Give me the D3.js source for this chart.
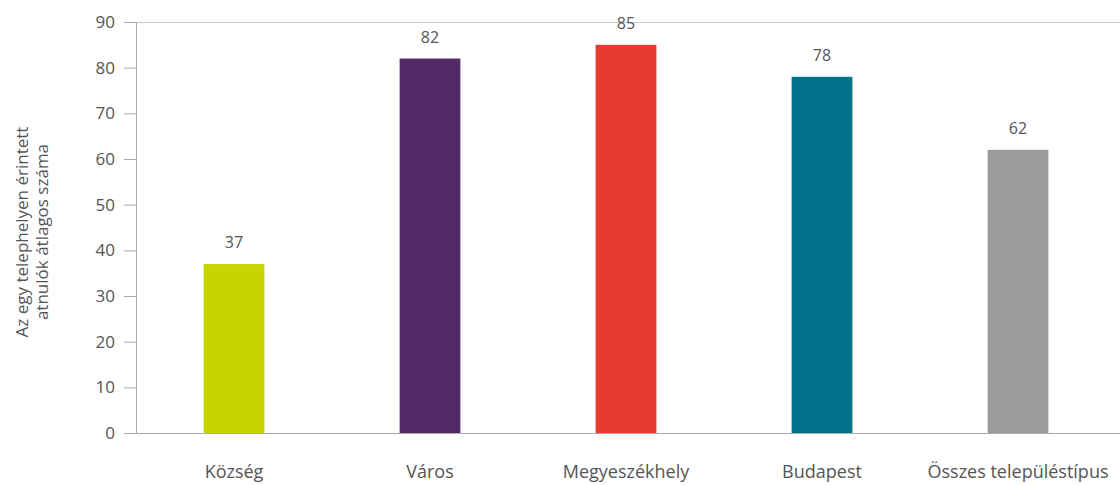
<!DOCTYPE html>
<html><head><meta charset="utf-8">
<script src="https://cdn.jsdelivr.net/npm/d3@7"></script>
<style>body{margin:0;background:#fff;} text{font-family:"Open Sans",sans-serif;}</style>
</head><body><svg id="c" width="1120" height="485"></svg>
<script>
const categories = ["Község","Város","Megyeszékhely","Budapest","Összes településtípus"];
const values = [37, 82, 85, 78, 62];
const colors = ["#c8d400","#532a66","#e63b2e","#00738a","#9b9b9b"];
const yTicks = [0,10,20,30,40,50,60,70,80,90];
const yTitle = ["Az egy telephelyen érintett","atnulók átlagos száma"];

const svg = d3.select("#c");
const x = d3.scaleBand().domain(categories).range([136,1116]).paddingInner(0.69).paddingOuter(0.345);
const y = d3.scaleLinear().domain([0,90]).range([433,22]);

// top border
svg.append("line").attr("x1",136).attr("x2",1120).attr("y1",y(90)+0.5).attr("y2",y(90)+0.5).attr("stroke","#c8c8c8").attr("stroke-width",1);

svg.selectAll("rect.bar").data(values).join("rect").attr("class","bar")
  .attr("x",(d,i)=>x(categories[i])).attr("width",x.bandwidth())
  .attr("y",d=>y(d)).attr("height",d=>y(0)-y(d)).attr("fill",(d,i)=>colors[i]);

svg.selectAll("text.val").data(values).join("text").attr("class","val")
  .attr("x",(d,i)=>x(categories[i])+x.bandwidth()/2).attr("y",d=>y(d)-16)
  .attr("text-anchor","middle").style("font-size","16px").attr("fill","#555").text(d=>d);

const ya = svg.append("g").attr("transform","translate(136,0)")
  .call(d3.axisLeft(y).tickValues(yTicks).tickSize(12).tickPadding(9));
ya.select(".domain").attr("stroke","#aaa");
ya.selectAll(".tick line").attr("stroke","#aaa");
ya.selectAll(".tick text").style("font-size","17px").attr("fill","#555");

const xa = svg.append("g").attr("transform","translate(0,433)")
  .call(d3.axisBottom(x).tickSize(0).tickPadding(32));
xa.select(".domain").attr("stroke","#aaa").attr("d","M136,0.5H1120");
xa.selectAll(".tick text").style("font-size","18px").attr("fill","#555");

const t = svg.append("text").attr("transform","translate(32,232) rotate(-90)")
  .attr("text-anchor","middle").style("font-size","17px").attr("fill","#555");
yTitle.forEach((s,i)=>t.append("tspan").attr("x",0).attr("dy",i===0?-4:20).text(s));
</script></body></html>
